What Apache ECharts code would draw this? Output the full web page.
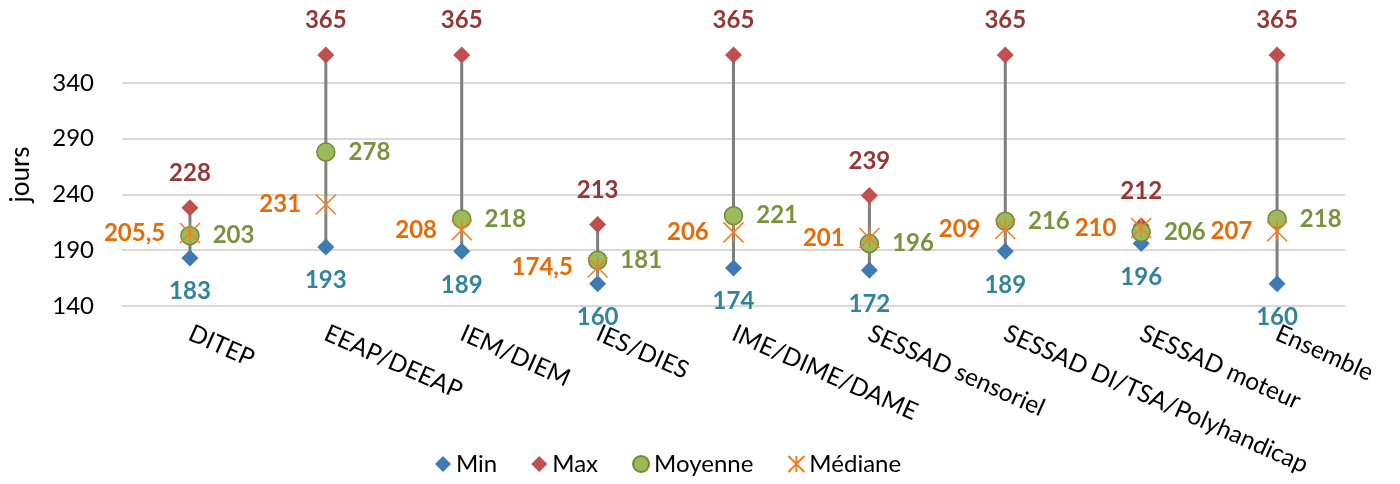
<!DOCTYPE html>
<html>
<head>
<meta charset="utf-8">
<script src="https://cdn.jsdelivr.net/npm/echarts@6/dist/echarts.min.js"></script>
<style>
  html, body { margin: 0; padding: 0; background: #fff; }
  #chart { width: 1400px; height: 484px; }
</style>
</head>
<body>
<div id="chart"></div>
<script>
// données
const categories = ['DITEP', 'EEAP/DEEAP', 'IEM/DIEM', 'IES/DIES', 'IME/DIME/DAME',
  'SESSAD sensoriel', 'SESSAD DI/TSA/Polyhandicap', 'SESSAD moteur', 'Ensemble']
const minValues = [183, 193, 189, 160, 174, 172, 189, 196, 160]
const maxValues = [228, 365, 365, 213, 365, 239, 365, 212, 365]
const moyValues = [203, 278, 218, 181, 221, 196, 216, 206, 218]
const medValues = [205.5, 231, 208, 174.5, 206, 201, 209, 210, 207]
const yTicks = [140, 190, 240, 290, 340]

const font = 'Lato, "Open Sans", sans-serif'
const star = 'path://M0,0L20,20M20,0L0,20M10,0L10,20'
const fmt = p => String(p.value).replace('.', ',')

const myChart = echarts.init(document.getElementById('chart'))

const labelStyle = (color, position, distance) => ({
  show: true,
  position: position,
  distance: distance,
  color: color,
  fontFamily: font,
  fontSize: 24,
  fontWeight: 'bold',
  formatter: fmt
})

const option = {
  animation: false,
  textStyle: { fontFamily: font },
  grid: { left: 118, right: 55, top: 55, bottom: 178 },
  legend: {
    bottom: 3,
    left: 430,
    itemGap: 34,
    itemWidth: 16,
    itemHeight: 16,
    textStyle: { fontFamily: font, fontSize: 24, color: '#000' },
    data: ['Min', 'Max', 'Moyenne', 'Médiane']
  },
  xAxis: {
    type: 'category',
    data: categories,
    axisLine: { show: false },
    axisTick: { show: false },
    axisLabel: {
      rotate: -24,
      interval: 0,
      margin: 26,
      color: '#000',
      fontFamily: font,
      fontSize: 24.5
    }
  },
  yAxis: {
    type: 'value',
    min: yTicks[0],
    max: 365,
    interval: 50,
    name: 'jours',
    nameLocation: 'middle',
    nameGap: 88,
    nameTextStyle: { fontFamily: font, fontSize: 26, color: '#000', padding: [0, 0, 0, 12] },
    axisLine: { show: false },
    axisTick: { show: false },
    axisLabel: {
      showMaxLabel: false,
      margin: 28,
      color: '#000',
      fontFamily: font,
      fontSize: 24
    },
    splitLine: { showMaxLine: false, lineStyle: { color: '#D9D9D9', width: 2 } }
  },
  series: [
    {
      // lignes haut-bas
      type: 'custom',
      silent: true,
      z: 1,
      data: categories.map((c, i) => [i, minValues[i], maxValues[i]]),
      renderItem: function (params, api) {
        const p1 = api.coord([api.value(0), api.value(1)])
        const p2 = api.coord([api.value(0), api.value(2)])
        return {
          type: 'line',
          shape: { x1: p1[0], y1: p1[1], x2: p2[0], y2: p2[1] },
          style: { stroke: '#7F7F7F', lineWidth: 3 }
        }
      }
    },
    {
      name: 'Min',
      type: 'scatter',
      z: 2,
      symbol: 'diamond',
      symbolSize: 17,
      itemStyle: { color: '#3F7AB5', opacity: 1 },
      label: labelStyle('#31849B', 'bottom', 13),
      emphasis: { disabled: true },
      data: minValues
    },
    {
      name: 'Max',
      type: 'scatter',
      z: 2,
      symbol: 'diamond',
      symbolSize: 17,
      itemStyle: { color: '#C0504D', opacity: 1 },
      label: labelStyle('#953735', 'top', 14),
      emphasis: { disabled: true },
      data: maxValues
    },
    {
      name: 'Moyenne',
      type: 'scatter',
      z: 3,
      symbol: 'circle',
      symbolSize: 18,
      itemStyle: { color: '#9BBB59', borderColor: '#71893F', borderWidth: 1.5, opacity: 1 },
      label: labelStyle('#77933C', 'right', 13),
      emphasis: { disabled: true },
      data: moyValues
    },
    {
      name: 'Médiane',
      type: 'scatter',
      z: 4,
      symbol: star,
      symbolSize: 20,
      itemStyle: { color: 'transparent', borderColor: '#F07F20', borderWidth: 1.5, opacity: 1 },
      label: labelStyle('#E46C0A', 'left', 14),
      emphasis: { disabled: true },
      data: medValues
    }
  ]
}
myChart.setOption(option)
</script>
</body>
</html>
